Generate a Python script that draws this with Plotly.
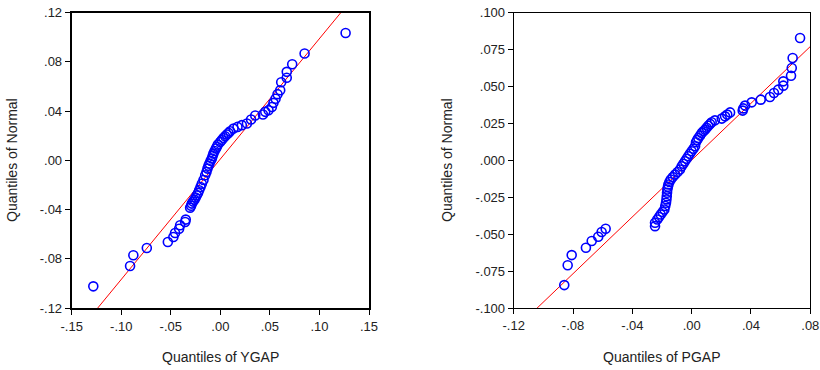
import plotly.graph_objects as go

# Left panel: YGAP
ygap_q = [-0.1282, -0.0911, -0.0878, -0.0742, -0.0530, -0.0474, -0.0457, -0.0416, -0.0406, -0.0355,
          -0.0349, -0.0305, -0.0295, -0.0288, -0.0275, -0.0261, -0.0250, -0.0237, -0.0225, -0.0214,
          -0.0200, -0.0187, -0.0170, -0.0153, -0.0140, -0.0130, -0.0120, -0.0110, -0.0098, -0.0086,
          -0.0078, -0.0070, -0.0058, -0.0045, -0.0035, -0.0025, -0.0002, 0.0015, 0.0031, 0.0048,
          0.0065, 0.0082, 0.0099, 0.0133, 0.0173, 0.0217, 0.0268, 0.0310, 0.0352, 0.0430,
          0.0453, 0.0486, 0.0520, 0.0536, 0.0557, 0.0577, 0.0604, 0.0614, 0.0670, 0.0670,
          0.0725, 0.0850, 0.1264]
ygap_norm = [-0.1024, -0.0859, -0.0772, -0.0713, -0.0664, -0.0623, -0.0591, -0.0556, -0.0528, -0.0501,
             -0.0482, -0.0385, -0.0370, -0.0352, -0.0336, -0.0320, -0.0302, -0.0285, -0.0265, -0.0244,
             -0.0217, -0.0190, -0.0160, -0.0122, -0.0095, -0.0068, -0.0045, -0.0027, -0.0005, 0.0014,
             0.0035, 0.0054, 0.0075, 0.0095, 0.0110, 0.0127, 0.0149, 0.0165, 0.0181, 0.0195,
             0.0209, 0.0222, 0.0236, 0.0257, 0.0271, 0.0285, 0.0298, 0.0331, 0.0363, 0.0371,
             0.0393, 0.0407, 0.0433, 0.0466, 0.0499, 0.0537, 0.0569, 0.0634, 0.0670, 0.0718,
             0.0780, 0.0867, 0.1033]
ygap_line_slope = 0.978
ygap_line_intercept = 0.001

# Right panel: PGAP
pgap_q = [-0.0859, -0.0836, -0.0809, -0.0713, -0.0674, -0.0630, -0.0607, -0.0580, -0.0247, -0.0247,
          -0.0232, -0.0220, -0.0209, -0.0196, -0.0184, -0.0178, -0.0173, -0.0170, -0.0168, -0.0166,
          -0.0164, -0.0160, -0.0157, -0.0150, -0.0141, -0.0127, -0.0112, -0.0095, -0.0079, -0.0067,
          -0.0056, -0.0045, -0.0034, -0.0023, -0.0012, 0.0000, 0.0012, 0.0023, 0.0029, 0.0037,
          0.0045, 0.0057, 0.0068, 0.0079, 0.0090, 0.0101, 0.0112, 0.0124, 0.0135, 0.0157,
          0.0203, 0.0225, 0.0240, 0.0259, 0.0344, 0.0348, 0.0360, 0.0405, 0.0466, 0.0528,
          0.0555, 0.0584, 0.0618, 0.0618, 0.0670, 0.0675, 0.0681, 0.0731]
pgap_norm = [-0.0845, -0.0711, -0.0642, -0.0592, -0.0547, -0.0518, -0.0486, -0.0464, -0.0446, -0.0423,
             -0.0401, -0.0384, -0.0367, -0.0350, -0.0333, -0.0310, -0.0288, -0.0265, -0.0243, -0.0220,
             -0.0198, -0.0180, -0.0164, -0.0147, -0.0130, -0.0114, -0.0097, -0.0080, -0.0063, -0.0041,
             -0.0024, -0.0007, 0.0010, 0.0027, 0.0044, 0.0061, 0.0078, 0.0095, 0.0122, 0.0137,
             0.0151, 0.0168, 0.0185, 0.0196, 0.0207, 0.0220, 0.0234, 0.0246, 0.0257, 0.0270,
             0.0282, 0.0297, 0.0309, 0.0324, 0.0336, 0.0351, 0.0370, 0.0392, 0.0410, 0.0428,
             0.0455, 0.0478, 0.0505, 0.0534, 0.0572, 0.0624, 0.0692, 0.0827]
pgap_line_slope = 0.961
pgap_line_intercept = 0.0001

# Tick labels
left_xticks = [-0.15, -0.10, -0.05, 0.0, 0.05, 0.10, 0.15]
left_xtext = ["-.15", "-.10", "-.05", ".00", ".05", ".10", ".15"]
left_yticks = [-0.12, -0.08, -0.04, 0.0, 0.04, 0.08, 0.12]
left_ytext = ["-.12", "-.08", "-.04", ".00", ".04", ".08", ".12"]
right_xticks = [-0.12, -0.08, -0.04, 0.0, 0.04, 0.08]
right_xtext = ["-.12", "-.08", "-.04", ".00", ".04", ".08"]
right_yticks = [-0.100, -0.075, -0.050, -0.025, 0.0, 0.025, 0.050, 0.075, 0.100]
right_ytext = ["-.100", "-.075", "-.050", "-.025", ".000", ".025", ".050", ".075", ".100"]

left_xrange = [-0.15, 0.15]
left_yrange = [-0.12, 0.12]
right_xrange = [-0.12, 0.08]
right_yrange = [-0.10, 0.10]

FONT = "Liberation Sans, Arial, sans-serif"
BLUE = "#0000FF"
RED = "#FF0000"

fig = go.Figure()

marker = dict(symbol="circle-open", size=9, color=BLUE, line=dict(width=1.6, color=BLUE))

fig.add_trace(go.Scatter(
    x=[left_xrange[0], left_xrange[1]],
    y=[ygap_line_intercept + ygap_line_slope * left_xrange[0],
       ygap_line_intercept + ygap_line_slope * left_xrange[1]],
    mode="lines", line=dict(color=RED, width=1), xaxis="x", yaxis="y", showlegend=False,
    hoverinfo="skip"))
fig.add_trace(go.Scatter(x=ygap_q, y=ygap_norm, mode="markers", marker=marker,
                         xaxis="x", yaxis="y", showlegend=False))

fig.add_trace(go.Scatter(
    x=[right_xrange[0], right_xrange[1]],
    y=[pgap_line_intercept + pgap_line_slope * right_xrange[0],
       pgap_line_intercept + pgap_line_slope * right_xrange[1]],
    mode="lines", line=dict(color=RED, width=1), xaxis="x2", yaxis="y2", showlegend=False,
    hoverinfo="skip"))
fig.add_trace(go.Scatter(x=pgap_q, y=pgap_norm, mode="markers", marker=marker,
                         xaxis="x2", yaxis="y2", showlegend=False))

W, H = 820, 370

def px_x(sx):
    return sx / W

def px_y(sy):
    return 1 - sy / H

ydom = [px_y(308.0), px_y(12.5)]

def axis(dom, rng, tv, tt, anchor, lw):
    return dict(domain=dom, range=rng, tickvals=tv, ticktext=tt, anchor=anchor,
                showgrid=False, zeroline=False, showline=True, mirror=True,
                linecolor="black", linewidth=lw, ticks="outside", ticklen=5,
                tickwidth=1, tickcolor="black", automargin=False,
                tickfont=dict(family=FONT, size=13, color="#222222"))

title_font = dict(family=FONT, size=14, color="#222222")

fig.update_layout(
    width=W, height=H,
    margin=dict(l=0, r=0, t=0, b=0, autoexpand=False),
    paper_bgcolor="white", plot_bgcolor="white",
    font=dict(family=FONT, size=12, color="#222222"),
    hovermode=False,
    xaxis=axis([px_x(71.7), px_x(369.0)], left_xrange, left_xticks, left_xtext, "y", 2),
    yaxis=axis(ydom, left_yrange, left_yticks, left_ytext, "x", 2),
    xaxis2=axis([px_x(513.7), px_x(810.3)], right_xrange, right_xticks, right_xtext, "y2", 1),
    yaxis2=axis(ydom, right_yrange, right_yticks, right_ytext, "x2", 1),
    annotations=[
        dict(text="Quantiles of YGAP", x=px_x(220), y=px_y(357), xref="paper", yref="paper",
             xanchor="center", yanchor="middle", showarrow=False, font=title_font),
        dict(text="Quantiles of Normal", x=px_x(12), y=px_y(160), xref="paper", yref="paper",
             xanchor="center", yanchor="middle", showarrow=False, textangle=-90, font=title_font),
        dict(text="Quantiles of PGAP", x=px_x(662), y=px_y(357), xref="paper", yref="paper",
             xanchor="center", yanchor="middle", showarrow=False, font=title_font),
        dict(text="Quantiles of Normal", x=px_x(447), y=px_y(160), xref="paper", yref="paper",
             xanchor="center", yanchor="middle", showarrow=False, textangle=-90, font=title_font),
    ],
)

fig.write_html("out.html",
               config={"displayModeBar": False, "staticPlot": True},
               post_script="document.body.style.margin='0px';document.body.style.overflow='hidden';")
